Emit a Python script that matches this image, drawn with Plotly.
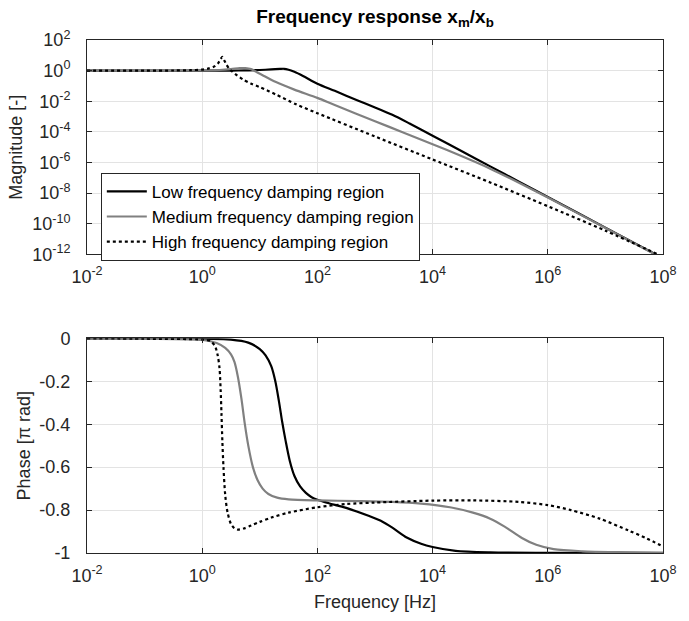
import plotly.graph_objects as go
from plotly.subplots import make_subplots

# ---------------- data ----------------
# Magnitude |x_m/x_b|
f_mag_low = [0.01, 0.1, 1, 3.16, 6.31, 10, 15.8, 22.4, 26.3, 31.6, 39.8, 56.2, 100, 200, 501,
             1000, 2000, 3980, 1e4, 3.16e4, 1e5, 3.16e5, 1e6, 1e7, 1e8]
mag_low = [1, 1, 1, 1.01, 1.05, 1.10, 1.20, 1.29, 1.32, 1.15, 0.832, 0.447, 0.141, 0.0479, 0.0112,
           3.98e-3, 1.32e-3, 3.55e-4, 5.62e-5, 5.62e-6, 5.62e-7, 5.62e-8, 5.62e-9, 5.62e-11, 5.62e-13]

f_mag_med = [0.01, 0.1, 1, 2.0, 3.16, 4.47, 5.62, 7.08, 8.91, 11.2, 19.1, 39.8, 100, 200, 1000,
             3160, 1e4, 3.16e4, 1e5, 3.16e5, 1e6, 1e7, 1e8]
mag_med = [1, 1, 1.02, 1.10, 1.26, 1.45, 1.48, 1.26, 0.794, 0.501, 0.178, 0.0575, 0.0166, 5.62e-3,
           5.01e-4, 8.91e-5, 1.58e-5, 2.63e-6, 3.98e-7, 4.79e-8, 5.25e-9, 5.37e-11, 5.37e-13]

f_mag_high = [0.01, 0.1, 0.316, 0.631, 1, 1.26, 1.58, 1.86, 2.09, 2.24, 2.40, 2.63, 2.95, 3.31,
              3.98, 5.13, 7.08, 10, 19.1, 42.7, 100, 1000, 1e4, 1e5, 1e6, 1e7, 1e8]
mag_high = [1, 1, 1.02, 1.07, 1.17, 1.35, 1.78, 2.82, 5.62, 7.94, 5.01, 2.51, 1.32, 0.891,
            0.501, 0.263, 0.141, 0.0832, 0.0275, 6.31e-3, 1.66e-3, 5.01e-5, 1.58e-6, 5.01e-8,
            1.41e-9, 3.55e-11, 7.08e-13]

# Phase [pi rad]
f_ph_low = [0.01, 0.1, 1, 3.16, 6.31, 10, 12.6, 15.8, 18.6, 21.4, 24.5, 28.2, 33.1, 39.8, 50.1,
            63.1, 79.4, 100, 158, 316, 794, 1260, 2000, 3550, 6310, 1e4, 2.51e4, 1e5, 1e6, 1e8]
ph_low = [0, -0.001, -0.003, -0.006, -0.02, -0.05, -0.08, -0.13, -0.2, -0.29, -0.39, -0.48, -0.57,
          -0.64, -0.69, -0.72, -0.74, -0.752, -0.768, -0.79, -0.828, -0.85, -0.882, -0.928, -0.957,
          -0.972, -0.99, -0.997, -0.999, -1.0]

f_ph_med = [0.01, 0.1, 1, 1.78, 2.51, 3.16, 3.63, 4.17, 4.79, 5.50, 6.31, 7.59, 9.12, 11.2, 14.1,
            20.0, 31.6, 100, 501, 2000, 6310, 2.0e4, 5.01e4, 1e5, 1.78e5, 3.55e5, 6.31e5, 1.26e6,
            3.98e6, 1.58e7, 1e8]
ph_med = [0, -0.002, -0.008, -0.022, -0.045, -0.075, -0.11, -0.18, -0.28, -0.4, -0.5, -0.6, -0.66,
          -0.7, -0.725, -0.742, -0.75, -0.755, -0.758, -0.762, -0.77, -0.787, -0.812, -0.84, -0.877,
          -0.93, -0.962, -0.982, -0.992, -0.996, -0.998]

f_ph_high = [0.01, 0.1, 1, 1.38, 1.66, 1.86, 2.0, 2.09, 2.16, 2.24, 2.34, 2.51, 2.75, 3.16, 3.63,
             4.17, 5.25, 7.08, 10, 15.8, 31.6, 100, 316, 1000, 1e4, 5.01e4, 3.16e5, 1e6, 2.51e6,
             7.94e6, 2.51e7, 5.01e7, 1e8]
ph_high = [0, -0.002, -0.006, -0.013, -0.035, -0.08, -0.14, -0.24, -0.35, -0.48, -0.6, -0.73, -0.81,
           -0.865, -0.885, -0.891, -0.886, -0.872, -0.855, -0.835, -0.812, -0.787, -0.772, -0.765,
           -0.756, -0.755, -0.762, -0.777, -0.8, -0.84, -0.895, -0.93, -0.97]

series_names = ["Low frequency damping region", "Medium frequency damping region",
                "High frequency damping region"]

x_tickvals = [1e-2, 1e0, 1e2, 1e4, 1e6, 1e8]
x_ticktext = ["10<sup>-2</sup>", "10<sup>0</sup>", "10<sup>2</sup>", "10<sup>4</sup>",
              "10<sup>6</sup>", "10<sup>8</sup>"]
mag_tickvals = [1e2, 1e0, 1e-2, 1e-4, 1e-6, 1e-8, 1e-10, 1e-12]
mag_ticktext = ["10<sup>2</sup>", "10<sup>0</sup>", "10<sup>-2</sup>", "10<sup>-4</sup>",
                "10<sup>-6</sup>", "10<sup>-8</sup>", "10<sup>-10</sup>", "10<sup>-12</sup>"]
ph_tickvals = [0, -0.2, -0.4, -0.6, -0.8, -1]
ph_ticktext = ["0", "-0.2", "-0.4", "-0.6", "-0.8", "-1"]

# ---------------- figure ----------------
FONT = "Liberation Sans, Arial, Helvetica, sans-serif"
AX = "#262626"
GRID = "#e3e3e3"
TICK_SIZE = 18
LABEL_SIZE = 18

fig = make_subplots(rows=2, cols=1)

styles = [dict(color="#000000", width=2.2, dash="solid"),
          dict(color="#808080", width=2.2, dash="solid"),
          dict(color="#000000", width=2.2, dash="dot")]

mags = [(f_mag_low, mag_low), (f_mag_med, mag_med), (f_mag_high, mag_high)]
phs = [(f_ph_low, ph_low), (f_ph_med, ph_med), (f_ph_high, ph_high)]

for name, st, (fx, my) in zip(series_names, styles, mags):
    fig.add_trace(go.Scatter(x=fx, y=my, mode="lines", name=name,
                             line=dict(shape="spline", smoothing=0.8, **st)), row=1, col=1)
for name, st, (fx, py) in zip(series_names, styles, phs):
    fig.add_trace(go.Scatter(x=fx, y=py, mode="lines", name=name, showlegend=False,
                             line=dict(shape="spline", smoothing=0.8, **st)), row=2, col=1)

common_x = dict(type="log", range=[-2, 8], tickvals=x_tickvals, ticktext=x_ticktext,
                showline=True, linecolor=AX, linewidth=1, mirror="ticks",
                ticks="inside", ticklen=5, tickcolor=AX, ticklabelstandoff=6,
                showgrid=True, gridcolor=GRID, gridwidth=1, zeroline=False,
                tickfont=dict(family=FONT, size=TICK_SIZE, color=AX))

fig.update_xaxes(**common_x)
fig.update_xaxes(title=dict(text="Frequency [Hz]", font=dict(family=FONT, size=LABEL_SIZE, color=AX),
                            standoff=10), row=2, col=1)

common_y = dict(showline=True, linecolor=AX, linewidth=1, mirror="ticks",
                ticks="inside", ticklen=5, tickcolor=AX, ticklabelstandoff=12,
                showgrid=True, gridcolor=GRID, gridwidth=1, zeroline=False,
                tickfont=dict(family=FONT, size=TICK_SIZE, color=AX))

fig.update_yaxes(type="log", range=[-12, 2], tickvals=mag_tickvals, ticktext=mag_ticktext,
                 domain=[0.582, 1.0],
                 title=dict(text="Magnitude [-]", font=dict(family=FONT, size=LABEL_SIZE, color=AX),
                            standoff=4),
                 row=1, col=1, **common_y)
fig.update_yaxes(range=[-1, 0], tickvals=ph_tickvals, ticktext=ph_ticktext,
                 domain=[0.0, 0.4185],
                 title=dict(text="Phase [π rad]", font=dict(family=FONT, size=LABEL_SIZE, color=AX),
                            standoff=4),
                 row=2, col=1, **common_y)

fig.update_layout(
    width=689, height=621,
    margin=dict(l=87, r=14, t=40, b=68),
    paper_bgcolor="white", plot_bgcolor="white",
    font=dict(family=FONT, color=AX),
    title=dict(text="<b>Frequency response x<sub>m</sub>/x<sub>b</sub></b>",
               x=0.5, xref="paper", xanchor="center",
               y=1 - 16 / 621, yref="container", yanchor="middle",
               font=dict(family=FONT, size=19, color="#000000")),
    legend=dict(x=0.024, y=0.741, xanchor="left", yanchor="top",
                bgcolor="white", bordercolor=AX, borderwidth=1,
                font=dict(family=FONT, size=17, color="#000000"),
                tracegroupgap=0, itemwidth=40),
    showlegend=True,
)

fig.write_html("out.html")
